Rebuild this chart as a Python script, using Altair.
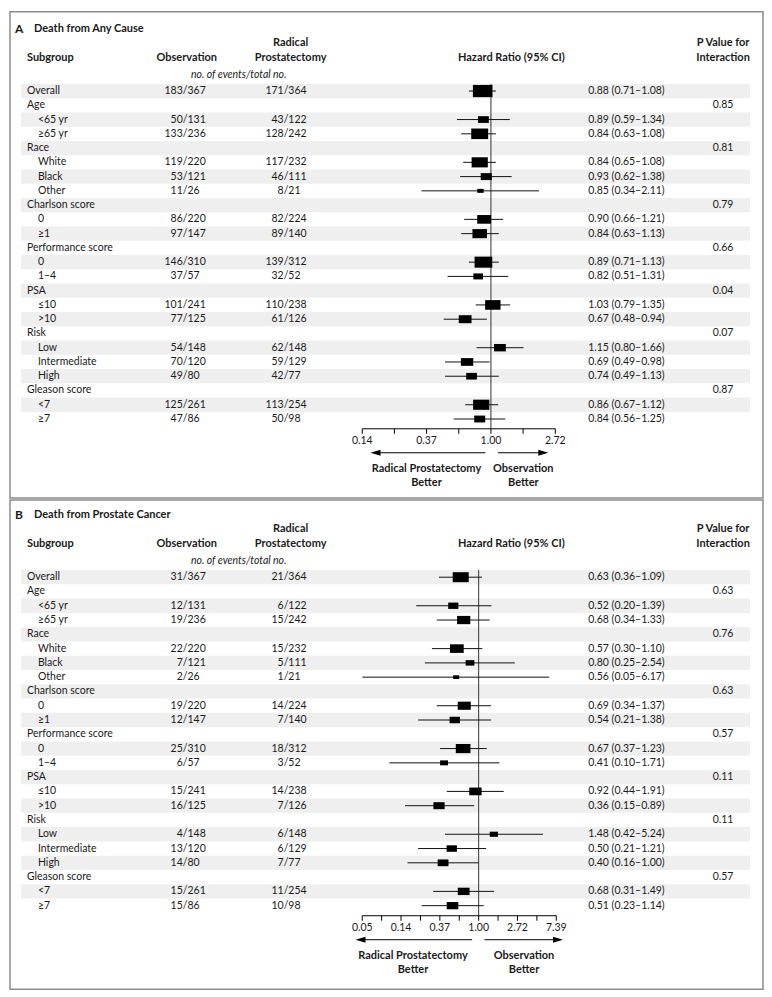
import math
import altair as alt
import pandas as pd

FONT = "Lato"
INK = "#1a1a1a"

subgroups = ["Overall", "Age", "<65 yr", "≥65 yr", "Race", "White", "Black", "Other",
             "Charlson score", "0", "≥1", "Performance score", "0", "1–4", "PSA", "≤10", ">10",
             "Risk", "Low", "Intermediate", "High", "Gleason score", "<7", "≥7"]

# Panel A: Death from Any Cause
a_obs = ["183/367", "", "50/131", "133/236", "", "119/220", "53/121", "11/26", "", "86/220", "97/147", "",
         "146/310", "37/57", "", "101/241", "77/125", "", "54/148", "70/120", "49/80", "", "125/261", "47/86"]
a_rp = ["171/364", "", "43/122", "128/242", "", "117/232", "46/111", "8/21", "", "82/224", "89/140", "",
        "139/312", "32/52", "", "110/238", "61/126", "", "62/148", "59/129", "42/77", "", "113/254", "50/98"]
a_hr = [0.88, None, 0.89, 0.84, None, 0.84, 0.93, 0.85, None, 0.90, 0.84, None,
        0.89, 0.82, None, 1.03, 0.67, None, 1.15, 0.69, 0.74, None, 0.86, 0.84]
a_lo = [0.71, None, 0.59, 0.63, None, 0.65, 0.62, 0.34, None, 0.66, 0.63, None,
        0.71, 0.51, None, 0.79, 0.48, None, 0.80, 0.49, 0.49, None, 0.67, 0.56]
a_hi = [1.08, None, 1.34, 1.08, None, 1.08, 1.38, 2.11, None, 1.21, 1.13, None,
        1.13, 1.31, None, 1.35, 0.94, None, 1.66, 0.98, 1.13, None, 1.12, 1.25]
a_p = ["", "0.85", "", "", "0.81", "", "", "", "0.79", "", "", "0.66",
       "", "", "0.04", "", "", "0.07", "", "", "", "0.87", "", ""]

# Panel B: Death from Prostate Cancer
b_obs = ["31/367", "", "12/131", "19/236", "", "22/220", "7/121", "2/26", "", "19/220", "12/147", "",
         "25/310", "6/57", "", "15/241", "16/125", "", "4/148", "13/120", "14/80", "", "15/261", "15/86"]
b_rp = ["21/364", "", "6/122", "15/242", "", "15/232", "5/111", "1/21", "", "14/224", "7/140", "",
        "18/312", "3/52", "", "14/238", "7/126", "", "6/148", "6/129", "7/77", "", "11/254", "10/98"]
b_hr = [0.63, None, 0.52, 0.68, None, 0.57, 0.80, 0.56, None, 0.69, 0.54, None,
        0.67, 0.41, None, 0.92, 0.36, None, 1.48, 0.50, 0.40, None, 0.68, 0.51]
b_lo = [0.36, None, 0.20, 0.34, None, 0.30, 0.25, 0.05, None, 0.34, 0.21, None,
        0.37, 0.10, None, 0.44, 0.15, None, 0.42, 0.21, 0.16, None, 0.31, 0.23]
b_hi = [1.09, None, 1.39, 1.33, None, 1.10, 2.54, 6.17, None, 1.37, 1.38, None,
        1.23, 1.71, None, 1.91, 0.89, None, 5.24, 1.21, 1.00, None, 1.49, 1.14]
b_p = ["", "0.63", "", "", "0.76", "", "", "", "0.63", "", "", "0.57",
       "", "", "0.11", "", "", "0.11", "", "", "", "0.57", "", ""]

# axis tick exponents (natural log)
a_axis_exp = (-2, 1)
b_axis_exp = (-3, 2)


def build(obs, rp, hr, lo, hi, p):
    rows = []
    for i, lab in enumerate(subgroups):
        has = hr[i] is not None
        on, od = obs[i].split("/") if obs[i] else ("", "")
        rn, rd = rp[i].split("/") if rp[i] else ("", "")
        rows.append(dict(
            row=i, label=lab, level=1 if (has and i > 0) else 0,
            obs_n=on, obs_d=("/" + od) if od else "",
            rp_n=rn, rp_d=("/" + rd) if rd else "",
            hr=hr[i], lo=lo[i], hi=hi[i], p=p[i],
            events=(int(on) + int(rn)) if has else None,
            hr_text=(f"{hr[i]:.2f} ({lo[i]:.2f}\u2013{hi[i]:.2f})") if has else "",
        ))
    return pd.DataFrame(rows)


def one(text):
    return pd.DataFrame({"t": [text]})


def label(text, x, y, align="left", bold=False, italic=False, size=10.5):
    return alt.Chart(one(text)).mark_text(
        align=align, baseline="middle", font=FONT, fontSize=size,
        fontWeight="bold" if bold else "normal",
        fontStyle="italic" if italic else "normal", color=INK, x=x, y=y
    ).encode(text="t:N")


def panel(letter, title, obs, rp, hr, lo, hi, p, exps, P):
    df = build(obs, rp, hr, lo, hi, p)
    dd = df[df["hr"].notna()].copy()
    ysc = alt.Scale(domain=[0, 23], range=P["rows"], nice=False, zero=False)
    xsc = alt.Scale(type="log", domain=[math.exp(exps[0]), math.exp(exps[1])],
                    range=P["xr"], nice=False)
    Y = alt.Y("row:Q", scale=ysc, axis=None)
    ax = P["axis"]
    layers = []

    # stripes
    layers.append(
        alt.Chart(df).transform_filter("datum.row % 2 == 0")
        .transform_calculate(y0="datum.row - 0.5", y1="datum.row + 0.5")
        .mark_rect(color="#efefef")
        .encode(y=alt.Y("y0:Q", scale=ysc, axis=None), y2="y1:Q",
                x=alt.value(11), x2=alt.value(741))
    )
    # reference line at HR = 1
    layers.append(
        alt.Chart(pd.DataFrame({"x": [1.0], "y0": [-0.5]})).mark_rule(color="#333", strokeWidth=1)
        .encode(x=alt.X("x:Q", scale=xsc, axis=None),
                y=alt.Y("y0:Q", scale=ysc, axis=None), y2=alt.value(ax))
    )
    # confidence intervals
    layers.append(
        alt.Chart(dd).mark_rule(color="#111", strokeWidth=1)
        .encode(x=alt.X("lo:Q", scale=xsc, axis=None), x2="hi:Q", y=Y)
    )
    # boxes
    layers.append(
        alt.Chart(dd).mark_point(shape="M-1.6,-1L1.6,-1L1.6,1L-1.6,1Z", filled=True,
                                 opacity=1, color="black")
        .encode(x=alt.X("hr:Q", scale=xsc, axis=None), y=Y,
                size=alt.Size("events:Q", scale=alt.Scale(domain=P["ev"], range=P["sz"], zero=False),
                              legend=None))
    )

    def col(data, field, x, align):
        return alt.Chart(data).mark_text(align=align, baseline="middle", font=FONT,
                                         fontSize=10.5, color=INK, x=x).encode(y=Y, text=f"{field}:N")

    layers.append(col(df[df["level"] == 0], "label", 17, "left"))
    layers.append(col(df[df["level"] == 1], "label", 28, "left"))
    layers.append(col(dd, "obs_n", 173, "right"))
    layers.append(col(dd, "obs_d", 173, "left"))
    layers.append(col(dd, "rp_n", 274, "right"))
    layers.append(col(dd, "rp_d", 274, "left"))
    layers.append(col(dd, "hr_text", 579, "left"))
    layers.append(col(df[df["p"] != ""], "p", 714, "center"))

    # headers
    layers += [
        label(letter, 5, P["title"], bold=True, size=12),
        label(title, 24, P["title"], bold=True, size=11),
        label("Subgroup", 17, P["h2"], bold=True, size=11),
        label("Observation", 177, P["h2"], align="center", bold=True, size=11),
        label("Radical", 281, P["h1"], align="center", bold=True, size=11),
        label("Prostatectomy", 281, P["h2"], align="center", bold=True, size=11),
        label("Hazard Ratio (95% CI)", 502, P["h2"], align="center", bold=True, size=11),
        label("P Value for", 714, P["h1"], align="center", bold=True, size=11),
        label("Interaction", 714, P["h2"], align="center", bold=True, size=11),
        label("no. of events/total no.", 229, P["h3"], align="center", italic=True),
    ]

    # axis
    ticks = pd.DataFrame({"v": [math.exp(k / 2) for k in range(2 * exps[0], 2 * exps[1] + 1)]})
    majors = pd.DataFrame({"v": [math.exp(k) for k in range(exps[0], exps[1] + 1)]})
    layers.append(
        alt.Chart(pd.DataFrame({"a": [math.exp(exps[0])], "b": [math.exp(exps[1])]}))
        .mark_rule(color="black", strokeWidth=1)
        .encode(x=alt.X("a:Q", scale=xsc, axis=None), x2="b:Q", y=alt.value(ax))
    )
    layers.append(
        alt.Chart(ticks).mark_rule(color="black", strokeWidth=1)
        .encode(x=alt.X("v:Q", scale=xsc, axis=None), y=alt.value(ax), y2=alt.value(ax + 5))
    )
    layers.append(
        alt.Chart(majors).mark_text(align="center", baseline="middle", font=FONT, fontSize=10.5, color=INK)
        .encode(x=alt.X("v:Q", scale=xsc, axis=None), y=alt.value(ax + 12),
                text=alt.Text("v:Q", format=".2f"))
    )

    # arrows
    (l0, l1), (r0, r1) = P["arrows"]
    ay = ax + 24
    dummy = pd.DataFrame({"a": [0]})
    layers.append(alt.Chart(dummy).mark_rule(color="black", strokeWidth=1)
                  .encode(x=alt.value(l0 + 4), x2=alt.value(l1), y=alt.value(ay)))
    layers.append(alt.Chart(dummy).mark_rule(color="black", strokeWidth=1)
                  .encode(x=alt.value(r0), x2=alt.value(r1 - 4), y=alt.value(ay)))
    layers.append(alt.Chart(dummy).mark_point(shape="M-1,0L1,-0.6L1,0.6Z", filled=True, opacity=1, color="black")
                  .encode(x=alt.value(l0 + 5), y=alt.value(ay), size=alt.value(100)))
    layers.append(alt.Chart(dummy).mark_point(shape="M1,0L-1,-0.6L-1,0.6Z", filled=True, opacity=1, color="black")
                  .encode(x=alt.value(r1 - 5), y=alt.value(ay), size=alt.value(100)))
    lc, rc = P["arrow_text"]
    layers += [
        label("Radical Prostatectomy", lc, ax + 40, align="center", bold=True, size=11),
        label("Better", lc, ax + 54, align="center", bold=True, size=11),
        label("Observation", rc, ax + 40, align="center", bold=True, size=11),
        label("Better", rc, ax + 54, align="center", bold=True, size=11),
    ]

    return alt.layer(*layers).properties(width=754, height=P["H"])


PA = dict(H=487, rows=[79.5, 407.9], title=17, h1=31, h2=46.5, h3=63, axis=417.7,
          xr=[352.7, 546.0], ev=[19, 354], sz=[16, 150],
          arrows=((361, 476), (488.7, 539)), arrow_text=(417, 514))
PB = dict(H=490, rows=[77.3, 406.2], title=14.8, h1=28.8, h2=44.3, h3=60.8, axis=416.3,
          xr=[352.7, 547.0], ev=[3, 52], sz=[14, 100],
          arrows=((346, 462.7), (475, 553.7)), arrow_text=(403.5, 514.7))

chart_a = panel("A", "Death from Any Cause", a_obs, a_rp, a_hr, a_lo, a_hi, a_p, a_axis_exp, PA)
chart_b = panel("B", "Death from Prostate Cancer", b_obs, b_rp, b_hr, b_lo, b_hi, b_p, b_axis_exp, PB)

chart = alt.vconcat(chart_a, chart_b, spacing=0).resolve_scale(
    size="independent", x="independent", y="independent"
).properties(
    padding={"left": 1, "top": 2, "right": 0, "bottom": 0}
).configure_view(stroke="#8c8c8c", strokeWidth=1.5)

chart.save("out.html", embed_options={"renderer": "svg", "actions": False})
